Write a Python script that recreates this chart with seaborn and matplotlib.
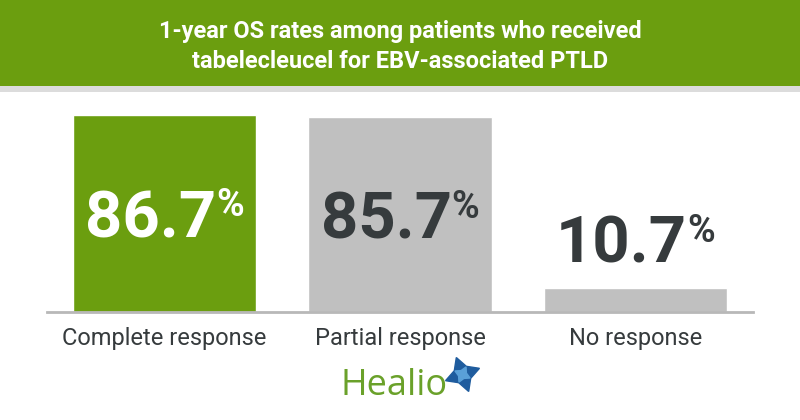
import matplotlib
matplotlib.use("Agg")
import matplotlib.pyplot as plt
import seaborn as sns
import pandas as pd
from matplotlib.patches import Rectangle
import matplotlib.transforms as mtransforms

# ---- data ----
categories = ["Complete response", "Partial response", "No response"]
values = [86.7, 85.7, 10.7]
value_labels = ["86.7", "85.7", "10.7"]
title_lines = ["1-year OS rates among patients who received",
               "tabelecleucel for EBV-associated PTLD"]

GREEN = "#6b9e0f"
GRAY = "#c0c0c0"
DARK = "#363b3d"

sns.set_theme(style="white")
plt.rcParams["font.family"] = ["Roboto", "DejaVu Sans"]

W, H = 800, 420
fig = plt.figure(figsize=(8, 4.2), dpi=100)

# header band
fig.patches.append(Rectangle((0, (H - 86) / H), 1, 86 / H, transform=fig.transFigure,
                             facecolor=GREEN, edgecolor="none", zorder=0))
fig.patches.append(Rectangle((0, (H - 92) / H), 1, 6 / H, transform=fig.transFigure,
                             facecolor="#dcdcdc", edgecolor="none", zorder=0))
for line, base in zip(title_lines, [38, 68]):
    fig.text(0.5, (H - base) / H, line, ha="center", va="baseline", color="white",
             fontsize=17, fontweight="bold")

ax = fig.add_axes([47 / W, 108 / H, 706 / W, 220 / H])
df = pd.DataFrame({"cat": categories, "val": values})
sns.barplot(data=df, x="cat", y="val", hue="cat", palette=[GREEN, GRAY, GRAY],
            width=0.78, legend=False, ax=ax, saturation=1)
ax.set_xlim(-0.5, 2.5)
ax.set_ylim(0, 96.8)
ax.set_xlabel("")
ax.set_ylabel("")
ax.set_yticks([])
for s in ["top", "right", "left"]:
    ax.spines[s].set_visible(False)
ax.spines["bottom"].set_color("#b8b8b8")
ax.spines["bottom"].set_linewidth(2)
ax.tick_params(axis="x", length=0, pad=11, labelsize=17, labelcolor=DARK)
ax.patch.set_alpha(0)

fig.canvas.draw()
renderer = fig.canvas.get_renderer()
for i, (v, lab) in enumerate(zip(values, value_labels)):
    col = "white" if i == 0 else DARK
    if v > 50:
        y = v / 2
        base_off = -24  # px: baseline below centre
    else:
        y = v
        base_off = 25
    t_num = ax.text(i, y, lab, fontsize=47, fontweight="bold", color=col,
                    ha="left", va="baseline")
    t_pct = ax.text(i, y, "%", fontsize=27, fontweight="bold", color=col,
                    ha="left", va="baseline")
    w1 = t_num.get_window_extent(renderer).width
    w2 = t_pct.get_window_extent(renderer).width
    gap = 0
    total = w1 + gap + w2
    x0 = -total / 2
    t_num.set_transform(ax.transData + mtransforms.ScaledTranslation(
        x0 / 100, base_off / 100, fig.dpi_scale_trans))
    t_pct.set_transform(ax.transData + mtransforms.ScaledTranslation(
        (x0 + w1 + gap) / 100, (base_off + 21) / 100, fig.dpi_scale_trans))

# Healio logo
fig.text(341 / W, (H - 395) / H, "Healio", ha="left", va="baseline",
         color="#6aa12a", fontsize=26, family=["Open Sans", "DejaVu Sans"])
fig.lines.append(plt.Line2D([462 / W], [(H - 374) / H], transform=fig.transFigure,
                            marker=(4, 1, 20), markersize=26, color="#1f5c9e",
                            linestyle="none"))
fig.lines.append(plt.Line2D([462 / W], [(H - 374) / H], transform=fig.transFigure,
                            marker=(4, 1, 65), markersize=12, color="#5aa0d8",
                            linestyle="none"))

fig.savefig("out.png", dpi=100)
